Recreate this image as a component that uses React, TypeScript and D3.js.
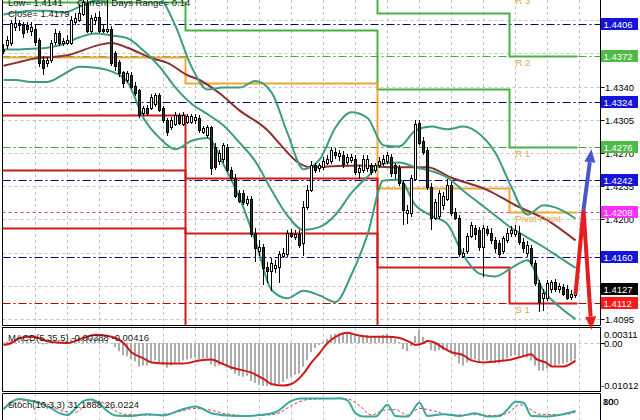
import React from "react";
import * as d3 from "d3";

// ---------- candles (quotes) ----------
const opens = [
  1.4380,1.4384,1.4386,1.4403,1.4407,1.4405,1.4405,1.4399,1.4401,1.4389,
  1.4368,1.4365,1.4368,1.4387,1.4397,1.4386,1.4386,1.4386,1.4408,1.4410,
  1.4417,1.4428,1.4399,1.4410,1.4413,1.4401,1.4399,1.4401,1.4375,1.4366,
  1.4355,1.4347,1.4352,1.4341,1.4336,1.4312,1.4317,1.4318,1.4322,1.4331,
  1.4317,1.4305,1.4297,1.4301,1.4310,1.4301,1.4303,1.4303,1.4305,1.4307,
  1.4292,1.4289,1.4297,1.4276,1.4262,1.4264,1.4276,1.4252,1.4244,1.4228,
  1.4228,1.4217,1.4222,1.4186,1.4167,1.4171,1.4150,1.4146,1.4149,1.4150,
  1.4162,1.4164,1.4186,1.4182,1.4185,1.4175,1.4213,1.4231,1.4257,1.4254,
  1.4255,1.4260,1.4262,1.4271,1.4267,1.4268,1.4261,1.4263,1.4264,1.4250,
  1.4252,1.4254,1.4257,1.4252,1.4257,1.4260,1.4262,1.4266,1.4257,1.4254,
  1.4238,1.4207,1.4207,1.4243,1.4302,1.4283,1.4273,1.4234,1.4202,1.4204,
  1.4215,1.4222,1.4236,1.4208,1.4202,1.4162,1.4167,1.4183,1.4191,1.4189,
  1.4171,1.4190,1.4186,1.4178,1.4175,1.4167,1.4178,1.4186,1.4185,1.4186,
  1.4176,1.4165,1.4170,1.4154,1.4133,1.4117,1.4117,1.4127,1.4134,1.4127,
  1.4129,1.4127,1.4118,1.4120,
];
const highs = [
  1.4385,1.4393,1.4410,1.4413,1.4410,1.4408,1.4408,1.4408,1.4405,1.4391,
  1.4372,1.4371,1.4389,1.4401,1.4399,1.4391,1.4394,1.4414,1.4418,1.4427,
  1.4436,1.4431,1.4416,1.4418,1.4420,1.4405,1.4433,1.4404,1.4378,1.4368,
  1.4357,1.4357,1.4355,1.4345,1.4338,1.4320,1.4321,1.4332,1.4333,1.4333,
  1.4320,1.4307,1.4308,1.4313,1.4312,1.4313,1.4311,1.4311,1.4311,1.4310,
  1.4299,1.4300,1.4299,1.4281,1.4273,1.4281,1.4280,1.4255,1.4248,1.4231,
  1.4231,1.4225,1.4225,1.4191,1.4178,1.4174,1.4155,1.4159,1.4157,1.4167,
  1.4170,1.4189,1.4190,1.4189,1.4189,1.4220,1.4236,1.4262,1.4260,1.4260,
  1.4266,1.4268,1.4276,1.4275,1.4273,1.4272,1.4269,1.4269,1.4268,1.4257,
  1.4268,1.4268,1.4260,1.4260,1.4266,1.4268,1.4271,1.4269,1.4260,1.4257,
  1.4241,1.4215,1.4247,1.4305,1.4305,1.4287,1.4276,1.4238,1.4222,1.4231,
  1.4229,1.4243,1.4239,1.4212,1.4205,1.4170,1.4186,1.4197,1.4194,1.4192,
  1.4194,1.4193,1.4191,1.4182,1.4178,1.4183,1.4191,1.4193,1.4194,1.4193,
  1.4180,1.4177,1.4173,1.4157,1.4136,1.4127,1.4136,1.4136,1.4137,1.4133,
  1.4132,1.4131,1.4126,1.4129,
];
const lows = [
  1.4374,1.4380,1.4383,1.4399,1.4399,1.4391,1.4397,1.4393,1.4383,1.4361,
  1.4352,1.4361,1.4365,1.4384,1.4383,1.4383,1.4384,1.4384,1.4405,1.4408,
  1.4414,1.4397,1.4396,1.4405,1.4397,1.4396,1.4397,1.4362,1.4357,1.4350,
  1.4339,1.4344,1.4338,1.4330,1.4307,1.4309,1.4309,1.4315,1.4319,1.4313,
  1.4302,1.4288,1.4294,1.4298,1.4300,1.4299,1.4301,1.4301,1.4301,1.4291,
  1.4290,1.4286,1.4247,1.4252,1.4257,1.4260,1.4250,1.4241,1.4223,1.4217,
  1.4215,1.4214,1.4182,1.4155,1.4162,1.4131,1.4133,1.4125,1.4144,1.4133,
  1.4159,1.4161,1.4180,1.4178,1.4170,1.4162,1.4210,1.4229,1.4249,1.4250,
  1.4252,1.4257,1.4259,1.4264,1.4262,1.4254,1.4257,1.4260,1.4247,1.4243,
  1.4249,1.4250,1.4247,1.4249,1.4254,1.4256,1.4259,1.4245,1.4243,1.4235,
  1.4194,1.4195,1.4203,1.4241,1.4278,1.4268,1.4231,1.4189,1.4199,1.4201,
  1.4210,1.4219,1.4204,1.4199,1.4161,1.4159,1.4164,1.4180,1.4178,1.4167,
  1.4139,1.4183,1.4174,1.4165,1.4159,1.4164,1.4175,1.4182,1.4182,1.4173,
  1.4165,1.4161,1.4151,1.4130,1.4102,1.4104,1.4114,1.4123,1.4124,1.4123,
  1.4119,1.4115,1.4115,1.4117,
];
const closes = [
  1.4378,1.4389,1.4407,1.4407,1.4405,1.4396,1.4401,1.4403,1.4387,1.4365,
  1.4360,1.4368,1.4386,1.4397,1.4386,1.4388,1.4389,1.4410,1.4412,1.4418,
  1.4429,1.4399,1.4412,1.4413,1.4399,1.4399,1.4401,1.4365,1.4362,1.4354,
  1.4344,1.4354,1.4340,1.4333,1.4310,1.4317,1.4312,1.4329,1.4331,1.4315,
  1.4305,1.4292,1.4305,1.4310,1.4302,1.4310,1.4309,1.4309,1.4308,1.4294,
  1.4296,1.4297,1.4254,1.4255,1.4270,1.4278,1.4252,1.4244,1.4225,1.4220,
  1.4218,1.4222,1.4185,1.4170,1.4171,1.4149,1.4146,1.4154,1.4152,1.4164,
  1.4165,1.4186,1.4183,1.4185,1.4173,1.4213,1.4231,1.4257,1.4252,1.4257,
  1.4262,1.4264,1.4273,1.4268,1.4270,1.4259,1.4266,1.4266,1.4250,1.4254,
  1.4264,1.4264,1.4250,1.4257,1.4262,1.4264,1.4268,1.4249,1.4249,1.4238,
  1.4210,1.4210,1.4244,1.4301,1.4281,1.4271,1.4234,1.4202,1.4218,1.4228,
  1.4225,1.4236,1.4207,1.4202,1.4164,1.4165,1.4183,1.4194,1.4185,1.4171,
  1.4191,1.4186,1.4178,1.4170,1.4164,1.4180,1.4186,1.4189,1.4189,1.4176,
  1.4170,1.4173,1.4154,1.4133,1.4113,1.4123,1.4133,1.4134,1.4127,1.4130,
  1.4122,1.4117,1.4122,1.4127,
];

// ---------- Bollinger bands (read at sample bars) ----------
const bbIdx = [0,3,7,11,15,19,23,27,31,35,39,43,47,51,55,59,63,67,71,75,79,83,87,91,95,99,103,107,111,115,119,123,127,131,135,139,143];
const bbUpper = [1.4416,1.4418,1.4420,1.4420,1.4418,1.4424,1.4431,1.4432,1.4437,1.4449,1.4436,1.4404,1.4361,1.4337,1.4339,1.4339,1.4346,1.4334,1.4291,1.4253,1.4263,1.4297,1.4313,1.4307,1.4278,1.4277,1.4294,1.4298,1.4295,1.4298,1.4290,1.4270,1.4234,1.4205,1.4215,1.4211,1.4201];
const bbMiddle = [1.4379,1.4379,1.4380,1.4381,1.4385,1.4392,1.4396,1.4394,1.4391,1.4378,1.4361,1.4339,1.4322,1.4311,1.4299,1.4281,1.4261,1.4231,1.4204,1.4189,1.4192,1.4205,1.4228,1.4245,1.4259,1.4260,1.4255,1.4251,1.4244,1.4230,1.4217,1.4204,1.4191,1.4181,1.4171,1.4160,1.4149];
const bbLower = [1.4347,1.4347,1.4345,1.4345,1.4353,1.4361,1.4360,1.4356,1.4345,1.4307,1.4286,1.4274,1.4283,1.4286,1.4258,1.4223,1.4177,1.4126,1.4117,1.4125,1.4120,1.4113,1.4142,1.4184,1.4241,1.4242,1.4215,1.4204,1.4195,1.4162,1.4143,1.4140,1.4149,1.4157,1.4125,1.4108,1.4095];

// ---------- slow moving average ----------
const maIdx = [0,4,7,16,24,27,31,37,41,46,49,54,59,66,69,74,77,82,89,97,106,112,121,128,136,143];
const maVals = [1.4362,1.4366,1.4369,1.4373,1.4384,1.4386,1.4381,1.4370,1.4365,1.4352,1.4347,1.4333,1.4315,1.4294,1.4280,1.4259,1.4255,1.4256,1.4257,1.4255,1.4255,1.4244,1.4231,1.4215,1.4199,1.4178];

// ---------- daily pivot levels ----------
const dayStart = [0, 46, 94, 127];
const pivotR3 = [1.4551, 1.4560, 1.4524, 1.4438];
const pivotR2 = [1.4490, 1.4501, 1.4418, 1.4372];
const pivotR1 = [1.4429, 1.4400, 1.4338, 1.4276];
const pivotP = [1.4371, 1.4344, 1.4233, 1.4208];
const pivotS1 = [1.4310, 1.4244, 1.4150, 1.4112];
const pivotS2 = [1.4252, 1.4186, 1.4047, 1.4044];
const pivotS3 = [1.4191, 1.4087, 1.3964, 1.3948];
const pivotNames = ["R 3", "R 2", "R 1", "Pivot Point", "S 1"];

// ---------- horizontal levels ----------
const navyLevels = [1.4406, 1.4324, 1.4242, 1.4160];
const greenLevels = [1.4372, 1.4276];
const magentaLevels = [1.4208];
const redLevels = [1.4112];
const priceTicks = [1.4410, 1.4375, 1.4340, 1.4305, 1.4270, 1.4235, 1.4200, 1.4165, 1.4130, 1.4095];

// ---------- forecast arrows ----------
const arrowRedIdx = [143, 145, 147];
const arrowRedPx = [1.4121, 1.4210, 1.4084];
const arrowBlueIdx = [145, 147];
const arrowBluePx = [1.4210, 1.4274];

// ---------- MACD(5,35,5) ----------
const macdMain = [
  0.00024,0.00036,0.00060,0.00072,0.00084,0.00084,0.00072,0.00048,0.00024,-0.00012,
  -0.00036,-0.00024,0,0.00024,0.00024,0.00036,0.00048,0.00084,0.00108,0.00132,
  0.00150,0.00120,0.00120,0.00120,0.00096,0.00084,0.00072,0,-0.00096,-0.00193,
  -0.00289,-0.00313,-0.00386,-0.00434,-0.00554,-0.00530,-0.00530,-0.00458,-0.00410,-0.00458,
  -0.00506,-0.00578,-0.00530,-0.00458,-0.00458,-0.00410,-0.00386,-0.00362,-0.00337,-0.00386,
  -0.00362,-0.00362,-0.00506,-0.00554,-0.00530,-0.00482,-0.00578,-0.00627,-0.00723,-0.00771,
  -0.00795,-0.00771,-0.00892,-0.00940,-0.00988,-0.01012,-0.01012,-0.01000,-0.00988,-0.00964,
  -0.00916,-0.00844,-0.00795,-0.00747,-0.00723,-0.00554,-0.00410,-0.00217,-0.00121,-0.00048,
  0.00024,0.00096,0.00193,0.00217,0.00241,0.00241,0.00241,0.00241,0.00169,0.00145,
  0.00169,0.00193,0.00145,0.00145,0.00169,0.00193,0.00217,0.00145,0.00096,0.00024,
  -0.00145,-0.00193,-0.00072,0.00169,0.00311,0.00145,0,-0.00169,-0.00193,-0.00169,
  -0.00169,-0.00145,-0.00241,-0.00313,-0.00482,-0.00530,-0.00458,-0.00386,-0.00386,-0.00458,
  -0.00410,-0.00410,-0.00434,-0.00458,-0.00482,-0.00410,-0.00362,-0.00313,-0.00289,-0.00313,
  -0.00337,-0.00337,-0.00410,-0.00530,-0.00651,-0.00651,-0.00603,-0.00554,-0.00530,-0.00506,
  -0.00482,-0.00458,-0.00434,-0.00388,
];
const macdSigIdx = [0,2,4,7,12,16,20,23,27,30,32,35,37,41,45,49,52,54,57,62,65,67,70,72,75,77,79,81,83,86,88,92,96,99,102,103,105,106,108,110,112,115,117,120,123,127,129,132,133,136,137,140,143];
const macdSigVals = [-0.00048,0,0.00120,0.00145,0.00024,0,0.00120,0.00193,0.00145,0,-0.00217,-0.00362,-0.00458,-0.00482,-0.00482,-0.00410,-0.00386,-0.00458,-0.00578,-0.00699,-0.00844,-0.00964,-0.01000,-0.00964,-0.00723,-0.00458,-0.00241,0,0.00145,0.00241,0.00193,0.00145,0.00145,0.00120,0,-0.00048,0,0.00048,0,-0.00121,-0.00217,-0.00289,-0.00410,-0.00458,-0.00434,-0.00386,-0.00337,-0.00265,-0.00362,-0.00482,-0.00554,-0.00554,-0.00416];

// ---------- Stochastic(10,3,3) ----------
const stochIdx = [0,2,4,6,8,10,12,14,16,18,20,22,24,26,28,32,36,40,44,48,52,56,60,64,68,72,74,78,82,84,86,88,90,93,96,98,101,104,106,110,114,118,121,124,126,128,130,132,136,140,143];
const stochMain = [40,80,95,88,80,65,45,20,10,45,85,92,70,30,8,5,15,8,35,55,20,8,5,10,25,85,97,98,97,99,88,20,3,2,65,5,2,75,5,15,5,20,2,5,40,80,75,5,3,15,31.19];
const stochSigIdx = [0,3,6,9,12,15,18,21,24,27,30,36,42,48,52,56,62,68,72,76,82,86,89,92,95,98,101,104,107,112,118,122,126,129,131,134,140,143];
const stochSig = [50,70,90,80,60,30,25,70,82,45,15,10,20,45,35,15,7,15,60,92,97,95,60,10,35,40,10,45,35,10,12,8,20,65,50,15,12,26.02];

const infoLow = "Low= 1.4141";
const infoRange = "Current Days Range= 0.14";
const infoClose = "Close= 1.4179";
const macdTitle = "MACD(5,35,5) -0.00388 -0.00416";
const stochTitle = "Stoch(10,3,3) 31.1888 26.0224";
const macdTopLabel = 0.00311;
const macdBottomLabel = -0.01012;

const FONT = "'Liberation Sans', Arial, sans-serif";

export default function App() {
  const n = closes.length;
  const L = 2.5, R = 600.5;
  const mainBot = 325.5, macdTop = 327.5, macdBot = 391.5, stTop = 393.5;

  const x = d3.scaleLinear().domain([0, n - 1]).range([3.5, 575.5]);
  const y = d3.scaleLinear().domain([1.4112, 1.4406]).range([303, 24]);
  const ym = d3.scaleLinear().domain([macdBottomLabel, 0]).range([386, 343]);
  const ys = d3.scaleLinear().domain([0, 100]).range([417, 398]);
  const s = (v: number) => Math.round(v) + 0.5;

  const curveLine = (idx: number[], yy: (v: number) => number) =>
    d3.line<number>().x((_, k) => x(idx[k])).y((v) => yy(v)).curve(d3.curveMonotoneX);

  const stepPath = (vals: number[]) => {
    const pts: [number, number][] = [];
    vals.forEach((v, d) => {
      const xs = d === 0 ? L : x(dayStart[d]) - 2;
      const xe = d === vals.length - 1 ? x(n - 1) + 2 : x(dayStart[d + 1]) - 2;
      pts.push([xs, s(y(v))], [xe, s(y(v))]);
    });
    return d3.line()(pts) as string;
  };

  const arrow = (idx: number[], px: number[], head = 13, half = 5.5) => {
    const pts: [number, number][] = idx.map((i, k) => [x(i), y(px[k])]);
    const p = pts[pts.length - 2], q = pts[pts.length - 1];
    const dx = q[0] - p[0], dy = q[1] - p[1];
    const len = Math.hypot(dx, dy);
    const ux = dx / len, uy = dy / len;
    const bx = q[0] - ux * head, by = q[1] - uy * head;
    const shaft = [...pts.slice(0, -1), [bx, by] as [number, number]];
    const tri = [[q[0], q[1]], [bx - uy * half, by + ux * half], [bx + uy * half, by - ux * half]];
    return { shaft: d3.line()(shaft) as string, tri: tri.map((t) => t.join(",")).join(" ") };
  };

  const gridX = d3.range(8, n + 1, 8).map((i) => s(x(i) - 0.5));
  const redArrow = arrow(arrowRedIdx, arrowRedPx);
  const blueArrow = arrow(arrowBlueIdx, arrowBluePx);

  const pivotD4 = [pivotR3, pivotR2, pivotR1, pivotP, pivotS1].map((a) => a[a.length - 1]);

  const boxLabels: { v: number; fill: string }[] = [
    ...navyLevels.map((v) => ({ v, fill: "#1414dc" })),
    ...greenLevels.map((v) => ({ v, fill: "#4dbb46" })),
    ...magentaLevels.map((v) => ({ v, fill: "#ff30ff" })),
    { v: closes[n - 1], fill: "#000000" },
    ...redLevels.map((v) => ({ v, fill: "#ff1818" })),
  ];

  const gridColor = "#c4c4c4";

  return (
    <svg width={640} height={420} style={{ position: "fixed", left: 0, top: 0, background: "#fff" }} fontFamily={FONT}>
      <defs>
        <clipPath id="mainClip"><rect x={L} y={0} width={R - L} height={mainBot} /></clipPath>
        <clipPath id="macdClip"><rect x={L} y={macdTop} width={R - L} height={macdBot - macdTop} /></clipPath>
        <clipPath id="stClip"><rect x={L} y={stTop} width={R - L} height={30} /></clipPath>
      </defs>
      <rect x={0} y={0} width={640} height={420} fill="#fff" />

      {/* grids */}
      <g stroke={gridColor} strokeDasharray="3,3" strokeWidth={1}>
        {gridX.map((gx, k) => (
          <g key={k}>
            <line x1={gx} x2={gx} y1={0} y2={mainBot} />
            <line x1={gx} x2={gx} y1={macdTop} y2={macdBot} />
            <line x1={gx} x2={gx} y1={stTop} y2={420} />
          </g>
        ))}
        {priceTicks.map((t, k) => (
          <line key={k} x1={L} x2={R} y1={s(y(t))} y2={s(y(t))} />
        ))}
        <line x1={L} x2={R} y1={s(ym(0))} y2={s(ym(0))} />
      </g>

      <g clipPath="url(#mainClip)">
        {navyLevels.map((v, k) => (
          <line key={"n" + k} x1={L} x2={R} y1={s(y(v))} y2={s(y(v))} stroke="#00007f" strokeDasharray="8,3,2,3" />
        ))}
        {greenLevels.map((v, k) => (
          <line key={"g" + k} x1={L} x2={R} y1={s(y(v))} y2={s(y(v))} stroke="#3aa83a" strokeDasharray="8,3,2,3" />
        ))}
        {magentaLevels.map((v, k) => (
          <line key={"m" + k} x1={L} x2={R} y1={s(y(v))} y2={s(y(v))} stroke="#c23ac2" strokeDasharray="3,3" />
        ))}
        {redLevels.map((v, k) => (
          <line key={"r" + k} x1={L} x2={R} y1={s(y(v))} y2={s(y(v))} stroke="#b80000" strokeDasharray="8,3,2,3" />
        ))}

        <g fill="none" strokeWidth={2}>
          {[pivotR3, pivotR2, pivotR1].map((a, k) => (
            <path key={"pr" + k} d={stepPath(a)} stroke="#47b147" />
          ))}
          <path d={stepPath(pivotP)} stroke="#f2a631" />
          {[pivotS1, pivotS2, pivotS3].map((a, k) => (
            <path key={"ps" + k} d={stepPath(a)} stroke="#d41818" />
          ))}
        </g>

        <g fill="none" strokeWidth={2}>
          <path d={curveLine(maIdx, y)(maVals) as string} stroke="#8e2f2f" />
          <path d={curveLine(bbIdx, y)(bbUpper) as string} stroke="#3c9c7e" />
          <path d={curveLine(bbIdx, y)(bbMiddle) as string} stroke="#3c9c7e" />
          <path d={curveLine(bbIdx, y)(bbLower) as string} stroke="#3c9c7e" />
        </g>

        {closes.map((c, i) => {
          const o = opens[i];
          const cx = Math.floor(x(i));
          const top = Math.round(y(Math.max(o, c)));
          const bot = Math.round(y(Math.min(o, c)));
          const bull = c >= o;
          return (
            <g key={i}>
              <line x1={cx + 0.5} x2={cx + 0.5} y1={Math.round(y(highs[i]))} y2={Math.round(y(lows[i]))} stroke="#000" />
              <rect x={cx - 0.5} y={top + 0.5} width={2} height={Math.max(bot - top, 1)} fill={bull ? "#fff" : "#1e3c1e"} stroke="#000" />
            </g>
          );
        })}

        {pivotNames.map((t, k) => (
          <text key={t} x={x(dayStart[3]) + 4} y={y(pivotD4[k]) + 10} fontSize={9.5} fill="#e9a647">{t}</text>
        ))}

        <g fontSize={9.5} fill="#1a1a1a">
          <text x={8} y={5.5}>{infoLow}</text>
          <text x={77} y={5.5}>{infoRange}</text>
          <text x={8} y={17}>{infoClose}</text>
        </g>
      </g>

      {/* MACD */}
      <g clipPath="url(#macdClip)">
        {macdMain.map((v, i) => {
          const y0 = ym(0), y1 = ym(v);
          return <rect key={i} x={Math.floor(x(i)) - 1} y={Math.min(y0, y1)} width={2} height={Math.abs(y1 - y0)} fill="#acacac" />;
        })}
        <path d={curveLine(macdSigIdx, ym)(macdSigVals) as string} fill="none" stroke="#d01818" strokeWidth={2} />
        <text x={8} y={341} fontSize={9.5} fill="#1a1a1a">{macdTitle}</text>
      </g>

      {/* Stochastic */}
      <g clipPath="url(#stClip)">
        <path d={curveLine(stochSigIdx, ys)(stochSig) as string} fill="none" stroke="#e03c3c" strokeDasharray="3,2" strokeWidth={1} />
        <path d={curveLine(stochIdx, ys)(stochMain) as string} fill="none" stroke="#36a89e" strokeWidth={2} />
        <text x={8} y={408} fontSize={9.5} fill="#1a1a1a">{stochTitle}</text>
      </g>

      <g fill="none" stroke="#000" strokeWidth={1}>
        <polyline points={`${L},0 ${L},${mainBot} ${R},${mainBot} ${R},0`} />
        <rect x={L} y={macdTop} width={R - L} height={macdBot - macdTop} />
        <polyline points={`${L},421 ${L},${stTop} ${R},${stTop} ${R},421`} />
      </g>

      <g fontSize={9.5}>
        {priceTicks.map((t, k) => (
          <g key={k}>
            <line x1={R} x2={R + 4} y1={s(y(t))} y2={s(y(t))} stroke="#000" />
            <text x={605} y={Math.round(y(t)) + 4} fill="#000">{t.toFixed(4)}</text>
          </g>
        ))}
        {boxLabels.map((b, k) => (
          <g key={"b" + k}>
            <rect x={601} y={Math.round(y(b.v)) - 6} width={37} height={12} fill={b.fill} />
            <text x={603.5} y={Math.round(y(b.v)) + 4} fill="#fff">{b.v.toFixed(4)}</text>
          </g>
        ))}
      </g>

      <g fontSize={9.5} fill="#000">
        <text x={604} y={338}>{macdTopLabel.toFixed(5)}</text>
        <text x={604} y={s(ym(0)) + 3.5}>0.00</text>
        <text x={601} y={389}>{macdBottomLabel.toFixed(5)}</text>
        <line x1={R} x2={R + 4} y1={s(ym(0))} y2={s(ym(0))} stroke="#000" />
      </g>

      <g fontSize={9.5} fill="#000">
        <text x={603} y={405}>100</text>
        <text x={603} y={405}>80</text>
      </g>

      <g>
        <path d={redArrow.shaft} fill="none" stroke="#e41e1e" strokeWidth={4} strokeLinejoin="miter" />
        <polygon points={redArrow.tri} fill="#e41e1e" />
        <path d={blueArrow.shaft} fill="none" stroke="#4a56cc" strokeWidth={4} />
        <polygon points={blueArrow.tri} fill="#4a56cc" />
      </g>
    </svg>
  );
}
